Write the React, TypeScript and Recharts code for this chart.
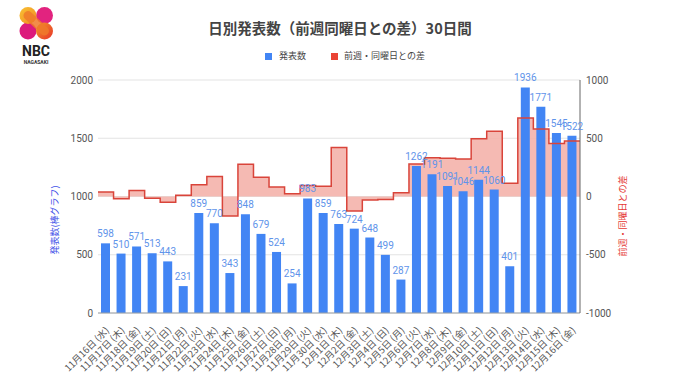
import React from "react";
import {
  ComposedChart,
  Bar,
  Line,
  Area,
  XAxis,
  YAxis,
  CartesianGrid,
  LabelList,
} from "recharts";

const dates = [
  "11月16日 (水)", "11月17日 (木)", "11月18日 (金)", "11月19日 (土)", "11月20日 (日)",
  "11月21日 (月)", "11月22日 (火)", "11月23日 (水)", "11月24日 (木)", "11月25日 (金)",
  "11月26日 (土)", "11月27日 (日)", "11月28日 (月)", "11月29日 (火)", "11月30日 (水)",
  "12月1日 (木)", "12月2日 (金)", "12月3日 (土)", "12月4日 (日)", "12月5日 (月)",
  "12月6日 (火)", "12月7日 (水)", "12月8日 (木)", "12月9日 (金)", "12月10日 (土)",
  "12月11日 (日)", "12月12日 (月)", "12月13日 (火)", "12月14日 (水)", "12月15日 (木)",
  "12月16日 (金)",
];

const counts = [
  598, 510, 571, 513, 443, 231, 859, 770, 343, 848, 679, 524, 254, 983, 859, 763,
  724, 648, 499, 287, 1262, 1191, 1091, 1046, 1144, 1060, 401, 1936, 1771, 1545, 1522,
];

const diffs = [
  38, -20, 52, -14, -49, 11, 100, 172, -167, 277, 166, 81, 23, 95, 89, 420,
  -124, -31, -25, 33, 279, 332, 328, 322, 496, 561, 114, 674, 580, 454, 476,
];

const leftTicks = [0, 500, 1000, 1500, 2000];
const rightTicks = [-1000, -500, 0, 500, 1000];

const data = dates.map((d, i) => ({ date: d, count: counts[i], diff: diffs[i] }));

// step series spans each full category band: each step starts at the band's left edge
const stepData = [
  ...diffs.map((v, i) => ({ pos: i - 0.5, diff: v })),
  { pos: diffs.length - 0.5, diff: diffs[diffs.length - 1] },
];

const FONT = "Roboto, 'Noto Sans CJK JP', sans-serif";
const JFONT = "'Noto Sans CJK JP', Roboto, sans-serif";

const XTick = (props: any) => {
  const { x, y, payload } = props;
  const ax = x + 4;
  const ay = y + 10;
  return (
    <text
      x={ax}
      y={ay}
      textAnchor="end"
      fontSize={9.5}
      fill="#555"
      fontFamily={JFONT}
      transform={`rotate(-45, ${ax}, ${ay})`}
    >
      {payload.value}
    </text>
  );
};

const Logo = () => (
  <svg width={60} height={70} style={{ position: "absolute", left: 0, top: 0 }}>
    <defs>
      <linearGradient id="lg1" x1="0" y1="0" x2="1" y2="1">
        <stop offset="0" stopColor="#f9c233" />
        <stop offset="1" stopColor="#f08a24" />
      </linearGradient>
      <linearGradient id="lg2" x1="0" y1="0" x2="1" y2="1">
        <stop offset="0" stopColor="#f39a2a" />
        <stop offset="1" stopColor="#e8332a" />
      </linearGradient>
    </defs>
    <circle cx={44.5} cy={15.5} r={8.5} fill="#e2237f" />
    <circle cx={28} cy={31} r={8.5} fill="#dc1a7c" />
    <circle cx={28} cy={15.5} r={8.5} fill="url(#lg1)" />
    <circle cx={44.5} cy={31} r={8.5} fill="url(#lg2)" />
    <path d="M28 15.5 L44.5 31" stroke="#f07a2a" strokeWidth={9} strokeLinecap="round" opacity={0.85} />
    <text x={36} y={56} textAnchor="middle" fontSize={14} fontWeight="bold" fill="#222" fontFamily="Roboto, sans-serif">NBC</text>
    <text x={36} y={64} textAnchor="middle" fontSize={5} fontWeight="bold" fill="#333" fontFamily="Roboto, sans-serif">NAGASAKI</text>
  </svg>
);

export default function App() {
  return (
    <div style={{ position: "absolute", left: 0, top: 0, width: 680, height: 382, background: "#fff", fontFamily: FONT }}>
      <Logo />
      <div
        style={{
          position: "absolute",
          left: 0,
          width: 680,
          top: 17,
          textAlign: "center",
          fontSize: 14.5,
          fontWeight: "bold",
          color: "#444",
          fontFamily: JFONT,
          lineHeight: "22px",
        }}
      >
        日別発表数（前週同曜日との差）30日間
      </div>
      <div
        style={{
          position: "absolute",
          left: 265,
          top: 50,
          display: "flex",
          alignItems: "center",
          fontSize: 9,
          color: "#444",
          fontFamily: JFONT,
          lineHeight: "12px",
        }}
      >
        <span style={{ width: 7, height: 7, background: "#4285f4", display: "inline-block", marginRight: 7 }} />
        <span style={{ marginRight: 25 }}>発表数</span>
        <span style={{ width: 7, height: 7, background: "#ea4335", display: "inline-block", marginRight: 6 }} />
        <span>前週・同曜日との差</span>
      </div>
      <div
        style={{
          position: "absolute",
          left: 55,
          top: 220,
          transform: "translate(-50%, -50%) rotate(-90deg)",
          fontSize: 9,
          color: "#3f51e8",
          fontFamily: JFONT,
          whiteSpace: "nowrap",
          lineHeight: "12px",
        }}
      >
        発表数(棒グラフ)
      </div>
      <div
        style={{
          position: "absolute",
          left: 623,
          top: 216,
          transform: "translate(-50%, -50%) rotate(-90deg)",
          fontSize: 9,
          color: "#e53935",
          fontFamily: JFONT,
          whiteSpace: "nowrap",
          lineHeight: "12px",
        }}
      >
        前週・同曜日との差
      </div>
      <div style={{ position: "absolute", left: 0, top: 0 }}>
        <ComposedChart
          width={680}
          height={382}
          data={data}
          margin={{ top: 80, right: 60, bottom: 9, left: 58 }}
          barCategoryGap={0}
        >
          <CartesianGrid vertical={false} stroke="#e3e3e3" yAxisId="left" />
          <XAxis
            dataKey="date"
            interval={0}
            height={60}
            tick={<XTick />}
            tickLine={false}
            axisLine={{ stroke: "#9aa0a6" }}
          />
          <XAxis
            xAxisId="num"
            dataKey="pos"
            type="number"
            domain={[-0.5, diffs.length - 0.5]}
            allowDataOverflow
            hide
          />
          <YAxis
            yAxisId="left"
            domain={[0, 2000]}
            ticks={leftTicks}
            width={40}
            axisLine={false}
            tickLine={false}
            tickSize={0}
            tickMargin={5}
            tick={{ fontSize: 10, fill: "#555", fontFamily: FONT }}
          />
          <YAxis
            yAxisId="right"
            orientation="right"
            domain={[-1000, 1000]}
            ticks={rightTicks}
            width={40}
            axisLine={{ stroke: "#666" }}
            tickLine={false}
            tickSize={0}
            tickMargin={6}
            tick={{ fontSize: 10, fill: "#555", fontFamily: FONT, textAnchor: "start" }}
          />
          <Area
            data={stepData}
            xAxisId="num"
            yAxisId="right"
            type="stepAfter"
            dataKey="diff"
            baseValue={0}
            stroke="none"
            fill="#f4b3ab"
            fillOpacity={0.9}
            dot={false}
            activeDot={false}
            isAnimationActive={false}
          />
          <Bar yAxisId="left" dataKey="count" fill="#4285f4" barSize={9} isAnimationActive={false}>
            <LabelList
              dataKey="count"
              position="top"
              offset={6}
              fill="#5f94ea"
              fontSize={10}
              fontFamily={FONT}
            />
          </Bar>
          <Line
            data={stepData}
            xAxisId="num"
            yAxisId="right"
            type="stepAfter"
            dataKey="diff"
            stroke="#d9443a"
            strokeWidth={1.5}
            dot={false}
            activeDot={false}
            isAnimationActive={false}
          />
        </ComposedChart>
      </div>
    </div>
  );
}
